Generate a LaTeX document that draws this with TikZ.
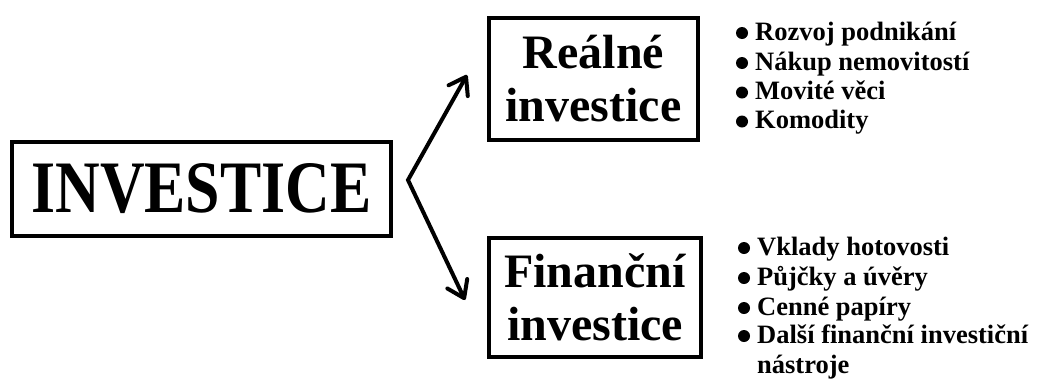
\documentclass[tikz,border=0pt]{standalone}
\usepackage{fontspec}
\setmainfont{Liberation Serif}
\usetikzlibrary{arrows.meta}
\begin{document}
\begin{tikzpicture}[x=1pt,y=-1pt,
  box/.style={draw,line width=4pt,inner sep=0pt,align=center,font=\bfseries\fontsize{48}{53}\selectfont},
  item/.style={anchor=base west,inner sep=0pt,align=left,font=\bfseries\fontsize{26.5}{30}\selectfont},
  conn/.style={line width=4pt,{Straight Barb[length=16pt,width=22pt,round]}-{Straight Barb[length=16pt,width=22pt,round]}}]
\useasboundingbox (0,0) rectangle (1037,381);
\node[box,minimum width=379pt,minimum height=94pt] (inv) at (201.5,189) {\scalebox{0.835}[1]{\fontsize{74}{80}\selectfont INVESTICE}};
\node[box,minimum width=209pt,minimum height=122pt] (real) at (593.5,79) {Reálné\\investice};
\node[box,minimum width=212pt,minimum height=119pt] (fin) at (595,297.5) {Finanční\\investice};
\coordinate (fork) at (408,180);
\draw[conn] ([shift={(-20,-4)}]real.west) -- (fork) -- ([shift={(-22,2.5)}]fin.west);
\node[item] (r1) at (755,40) {Rozvoj podnikání};
\node[item] (r2) at (755,70) {Nákup nemovitostí};
\node[item] (r3) at (755,99.5) {Movité věci};
\node[item] (r4) at (755,128.5) {Komodity};
\node[item] (f1) at (757,255) {Vklady hotovosti};
\node[item] (f2) at (757,285) {Půjčky a úvěry};
\node[item] (f3) at (757,315) {Cenné papíry};
\node[item] (f4) at (757,373) {Další finanční investiční\\nástroje};
\foreach \n in {r1,r2,r3,r4}{\fill ([shift={(-13,-7)}]\n.base west) circle (6pt);}
\foreach \n in {f1,f2,f3}{\fill ([shift={(-13,-7)}]\n.base west) circle (6pt);}
\fill ([shift={(-13,-37)}]f4.base west) circle (6pt);
\end{tikzpicture}
\end{document}
